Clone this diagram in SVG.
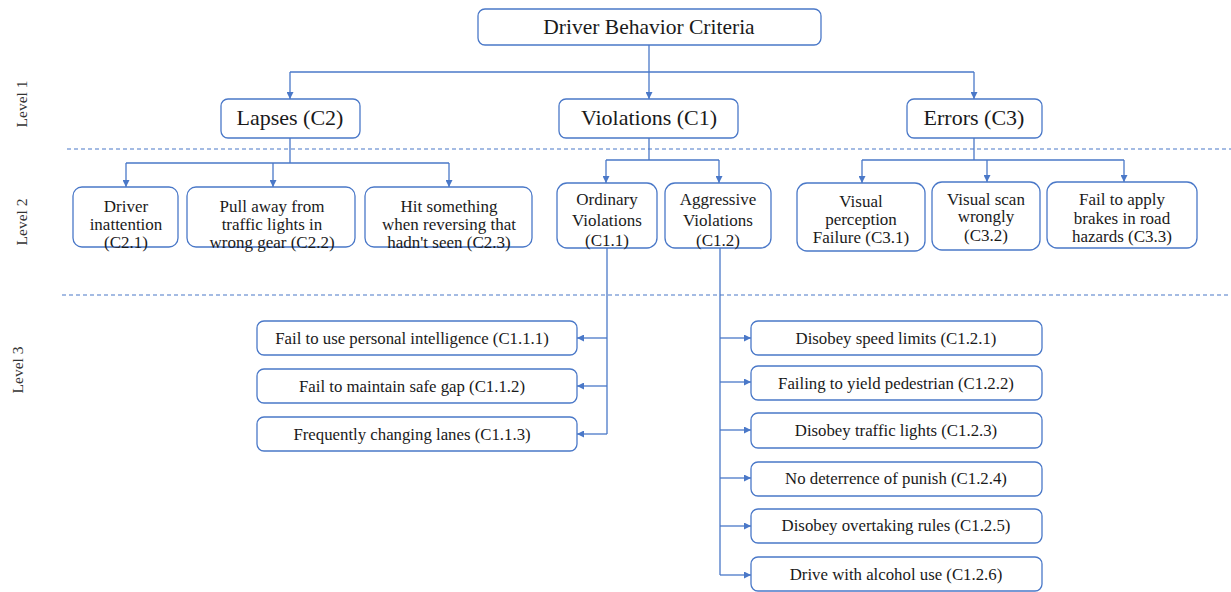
<svg xmlns="http://www.w3.org/2000/svg" width="1231" height="592" viewBox="0 0 1231 592">
<style>
.box{fill:#fff;stroke:#4a78c8;stroke-width:1.3}
.t{font-family:"Liberation Serif","Times New Roman",serif;fill:#1a1a1a;text-anchor:middle}
.t0{font-size:21.5px}
.t1{font-size:22px}
.t2{font-size:17px}
.t3{font-size:16.8px}
.lv{font-family:"Liberation Serif",serif;font-size:15.5px;fill:#333;text-anchor:middle}
.c{fill:none;stroke:#4a78c8;stroke-width:1.3}
.d{fill:none;stroke:#4a78c8;stroke-width:1.1;stroke-dasharray:4 3}
</style>
<defs>
<marker id="ah" viewBox="0 0 10 10" refX="10" refY="5" markerWidth="7" markerHeight="7" markerUnits="userSpaceOnUse" orient="auto">
<path d="M0,0 L10,5 L0,10 z" fill="#4a78c8"/>
</marker>
</defs>
<rect width="1231" height="592" fill="#fff"/>
<g id="guides">
<line class="d" x1="67" y1="149" x2="1231" y2="149"/>
<line class="d" x1="62" y1="295" x2="1231" y2="295"/>
<text class="lv" transform="translate(27,104) rotate(-90)">Level 1</text>
<text class="lv" transform="translate(27,222) rotate(-90)">Level 2</text>
<text class="lv" transform="translate(23,370) rotate(-90)">Level 3</text>
</g>
<g id="connectors">
<path class="c" d="M649,45 V72"/>
<path class="c" d="M290,72 H974"/>
<path class="c" d="M290,72 V99" marker-end="url(#ah)"/>
<path class="c" d="M649,72 V99" marker-end="url(#ah)"/>
<path class="c" d="M974,72 V99" marker-end="url(#ah)"/>
<path class="c" d="M290,138 V163 M126,163 H449"/>
<path class="c" d="M126,163 V187" marker-end="url(#ah)"/>
<path class="c" d="M273,163 V187" marker-end="url(#ah)"/>
<path class="c" d="M449,163 V187" marker-end="url(#ah)"/>
<path class="c" d="M649,138 V160 M606,160 H719"/>
<path class="c" d="M606,160 V183" marker-end="url(#ah)"/>
<path class="c" d="M719,160 V183" marker-end="url(#ah)"/>
<path class="c" d="M974,138 V160 M862,160 H1124"/>
<path class="c" d="M862,160 V183" marker-end="url(#ah)"/>
<path class="c" d="M987,160 V182" marker-end="url(#ah)"/>
<path class="c" d="M1124,160 V182" marker-end="url(#ah)"/>
<path class="c" d="M607,248 V434"/>
<path class="c" d="M607,338 H577" marker-end="url(#ah)"/>
<path class="c" d="M607,386 H577" marker-end="url(#ah)"/>
<path class="c" d="M607,434 H577" marker-end="url(#ah)"/>
<path class="c" d="M720,248 V575"/>
<path class="c" d="M720,338 H751" marker-end="url(#ah)"/>
<path class="c" d="M720,382 H751" marker-end="url(#ah)"/>
<path class="c" d="M720,430 H751" marker-end="url(#ah)"/>
<path class="c" d="M720,478 H751" marker-end="url(#ah)"/>
<path class="c" d="M720,526 H751" marker-end="url(#ah)"/>
<path class="c" d="M720,575 H751" marker-end="url(#ah)"/>
</g>
<g id="root"><rect class="box" x="478" y="9" width="343" height="36" rx="7"/><text class="t t0" x="649" y="34">Driver Behavior Criteria</text></g>
<g id="c2"><rect class="box" x="221" y="99" width="139" height="39" rx="7"/><text class="t t1" x="290" y="125">Lapses (C2)</text></g>
<g id="c1"><rect class="box" x="559" y="99" width="179" height="39" rx="7"/><text class="t t1" x="649" y="125">Violations (C1)</text></g>
<g id="c3"><rect class="box" x="907" y="99" width="135" height="39" rx="7"/><text class="t t1" x="974" y="125">Errors (C3)</text></g>
<g id="c2-1"><rect class="box" x="73" y="187" width="105" height="60" rx="9"/><text class="t t2" x="126" y="212">Driver</text><text class="t t2" x="126" y="230">inattention</text><text class="t t2" x="126" y="248">(C2.1)</text></g>
<g id="c2-2"><rect class="box" x="187" y="187" width="168" height="60" rx="9"/><text class="t t2" x="272" y="212">Pull away from</text><text class="t t2" x="272" y="230">traffic lights in</text><text class="t t2" x="272" y="248">wrong gear (C2.2)</text></g>
<g id="c2-3"><rect class="box" x="365" y="187" width="167" height="60" rx="9"/><text class="t t2" x="449" y="212">Hit something</text><text class="t t2" x="449" y="230">when reversing that</text><text class="t t2" x="449" y="248">hadn't seen (C2.3)</text></g>
<g id="c1-1"><rect class="box" x="557" y="183" width="100" height="65" rx="10"/><text class="t t2" x="607" y="205">Ordinary</text><text class="t t2" x="607" y="226">Violations</text><text class="t t2" x="607" y="246">(C1.1)</text></g>
<g id="c1-2"><rect class="box" x="665" y="183" width="106" height="65" rx="10"/><text class="t t2" x="718" y="205">Aggressive</text><text class="t t2" x="718" y="226">Violations</text><text class="t t2" x="718" y="246">(C1.2)</text></g>
<g id="c3-1"><rect class="box" x="797" y="183" width="128" height="68" rx="10"/><text class="t t2" x="861" y="207">Visual</text><text class="t t2" x="861" y="225">perception</text><text class="t t2" x="861" y="243">Failure (C3.1)</text></g>
<g id="c3-2"><rect class="box" x="932" y="182" width="108" height="68" rx="10"/><text class="t t2" x="986" y="205">Visual scan</text><text class="t t2" x="986" y="222">wrongly</text><text class="t t2" x="986" y="241">(C3.2)</text></g>
<g id="c3-3"><rect class="box" x="1047" y="182" width="150" height="66" rx="10"/><text class="t t2" x="1122" y="205">Fail to apply</text><text class="t t2" x="1122" y="224">brakes in road</text><text class="t t2" x="1122" y="242">hazards (C3.3)</text></g>
<g id="c1-1-1"><rect class="box" x="257" y="321" width="320" height="34" rx="7"/><text class="t t3" x="412" y="344">Fail to use personal intelligence (C1.1.1)</text></g>
<g id="c1-1-2"><rect class="box" x="257" y="369" width="320" height="34" rx="7"/><text class="t t3" x="412" y="392">Fail to maintain safe gap (C1.1.2)</text></g>
<g id="c1-1-3"><rect class="box" x="257" y="417" width="320" height="34" rx="7"/><text class="t t3" x="412" y="440">Frequently changing lanes (C1.1.3)</text></g>
<g id="c1-2-1"><rect class="box" x="751" y="321" width="291" height="34" rx="7"/><text class="t t3" x="896" y="344">Disobey speed limits (C1.2.1)</text></g>
<g id="c1-2-2"><rect class="box" x="751" y="366" width="291" height="34" rx="7"/><text class="t t3" x="896" y="389">Failing to yield pedestrian (C1.2.2)</text></g>
<g id="c1-2-3"><rect class="box" x="751" y="413" width="291" height="35" rx="7"/><text class="t t3" x="896" y="436">Disobey traffic lights (C1.2.3)</text></g>
<g id="c1-2-4"><rect class="box" x="751" y="462" width="291" height="34" rx="7"/><text class="t t3" x="896" y="484">No deterrence of punish (C1.2.4)</text></g>
<g id="c1-2-5"><rect class="box" x="751" y="509" width="291" height="34" rx="7"/><text class="t t3" x="896" y="531">Disobey overtaking rules (C1.2.5)</text></g>
<g id="c1-2-6"><rect class="box" x="751" y="557" width="291" height="34" rx="7"/><text class="t t3" x="896" y="580">Drive with alcohol use (C1.2.6)</text></g>
</svg>
